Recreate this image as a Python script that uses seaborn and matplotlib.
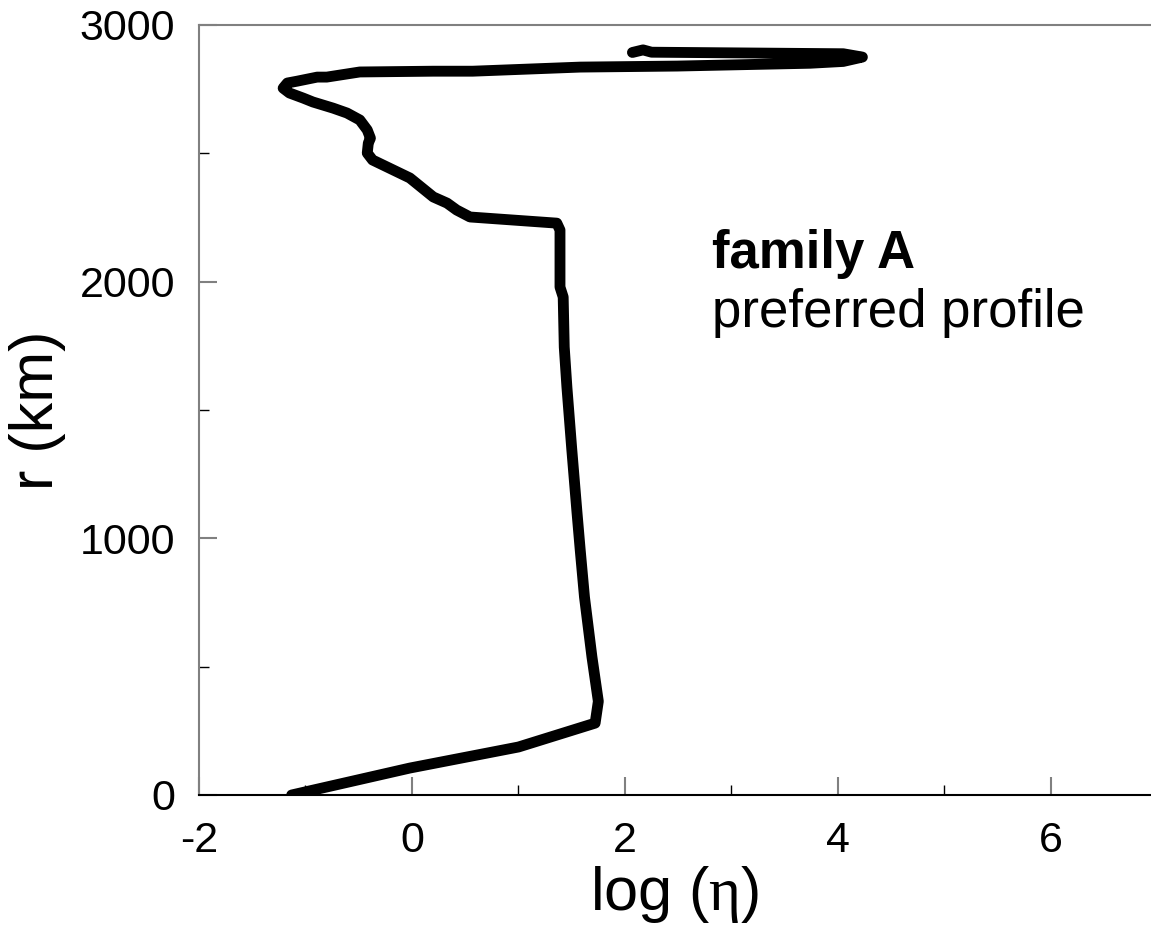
import matplotlib
matplotlib.use("Agg")
import matplotlib.pyplot as plt
import seaborn as sns
import pandas as pd
from matplotlib.ticker import MultipleLocator

log_eta = [-1.13, -0.02, 1.00, 1.72, 1.75, 1.69, 1.62, 1.58, 1.55, 1.50, 1.455, 1.43,
           1.42, 1.39, 1.39, 1.36, 0.545, 0.42, 0.33, 0.20, -0.02, -0.37, -0.42, -0.41,
           -0.39, -0.42, -0.49, -0.61, -0.74, -0.93, -1.02, -1.15, -1.21, -1.17, -1.08,
           -0.89, -0.80, -0.49, 0.20, 0.57, 1.58, 2.49, 3.74, 4.05, 4.23, 4.05, 2.25,
           2.17, 2.07]
r_km = [0, 105, 187, 280, 365, 538, 771, 954, 1099, 1350, 1589, 1745,
        1940, 1979, 2201, 2228, 2252, 2279, 2306, 2330, 2404, 2474, 2501, 2540,
        2559, 2591, 2630, 2657, 2676, 2700, 2715, 2735, 2754, 2774, 2781,
        2797, 2797, 2817, 2820, 2820, 2836, 2840, 2851, 2858, 2875, 2888, 2894,
        2903, 2893]

x_ticks = [-2, 0, 2, 4, 6]
y_ticks = [0, 1000, 2000, 3000]
title_bold = "family A"
title_sub = "preferred profile"

sns.set_style("ticks")
plt.rcParams['font.family'] = ['Liberation Sans', 'DejaVu Sans']
plt.rcParams['text.color'] = 'black'
plt.rcParams['axes.labelcolor'] = 'black'
plt.rcParams['axes.unicode_minus'] = False
plt.rcParams['mathtext.fontset'] = 'custom'
plt.rcParams['mathtext.rm'] = 'Liberation Serif'

df = pd.DataFrame({"log_eta": log_eta, "r": r_km})

fig = plt.figure(figsize=(11.51, 9.32), dpi=100)
ax = fig.add_axes([199 / 1151, 1 - 795 / 932, 952 / 1151, 770 / 932])

sns.lineplot(data=df, x="log_eta", y="r", sort=False, estimator=None,
             color="black", linewidth=7.8, ax=ax, solid_capstyle="round",
             solid_joinstyle="round")

ax.set_xlim(-2, 6.94)
ax.set_ylim(0, 3000)
ax.set_xticks(x_ticks)
ax.set_yticks(y_ticks)
ax.xaxis.set_minor_locator(MultipleLocator(1))
ax.yaxis.set_minor_locator(MultipleLocator(500))

ax.tick_params(which="major", direction="in", length=13, width=1.5, color="#808080",
               labelsize=31, labelcolor="black")
ax.tick_params(axis="x", which="major", pad=19)
ax.tick_params(axis="y", which="major", pad=17)
ax.tick_params(which="minor", direction="in", length=7, width=1, color="black")

ax.spines["right"].set_visible(False)
ax.spines["top"].set_visible(True)
ax.spines["top"].set_color("#808080")
ax.spines["top"].set_linewidth(1.5)
ax.spines["left"].set_color("#808080")
ax.spines["left"].set_linewidth(1.5)
ax.spines["bottom"].set_color("black")
ax.spines["bottom"].set_linewidth(1.5)

ax.set_xlabel(r"log ($\mathrm{\eta}$)", fontsize=44, labelpad=2)
ax.set_ylabel("r (km)", fontsize=44, labelpad=10)

ax.text(2.82, 2053, title_bold, fontsize=38, fontweight="bold", ha="left", va="baseline")
ax.text(2.82, 1825, title_sub, fontsize=38, ha="left", va="baseline")

fig.savefig("out.png", dpi=100)
